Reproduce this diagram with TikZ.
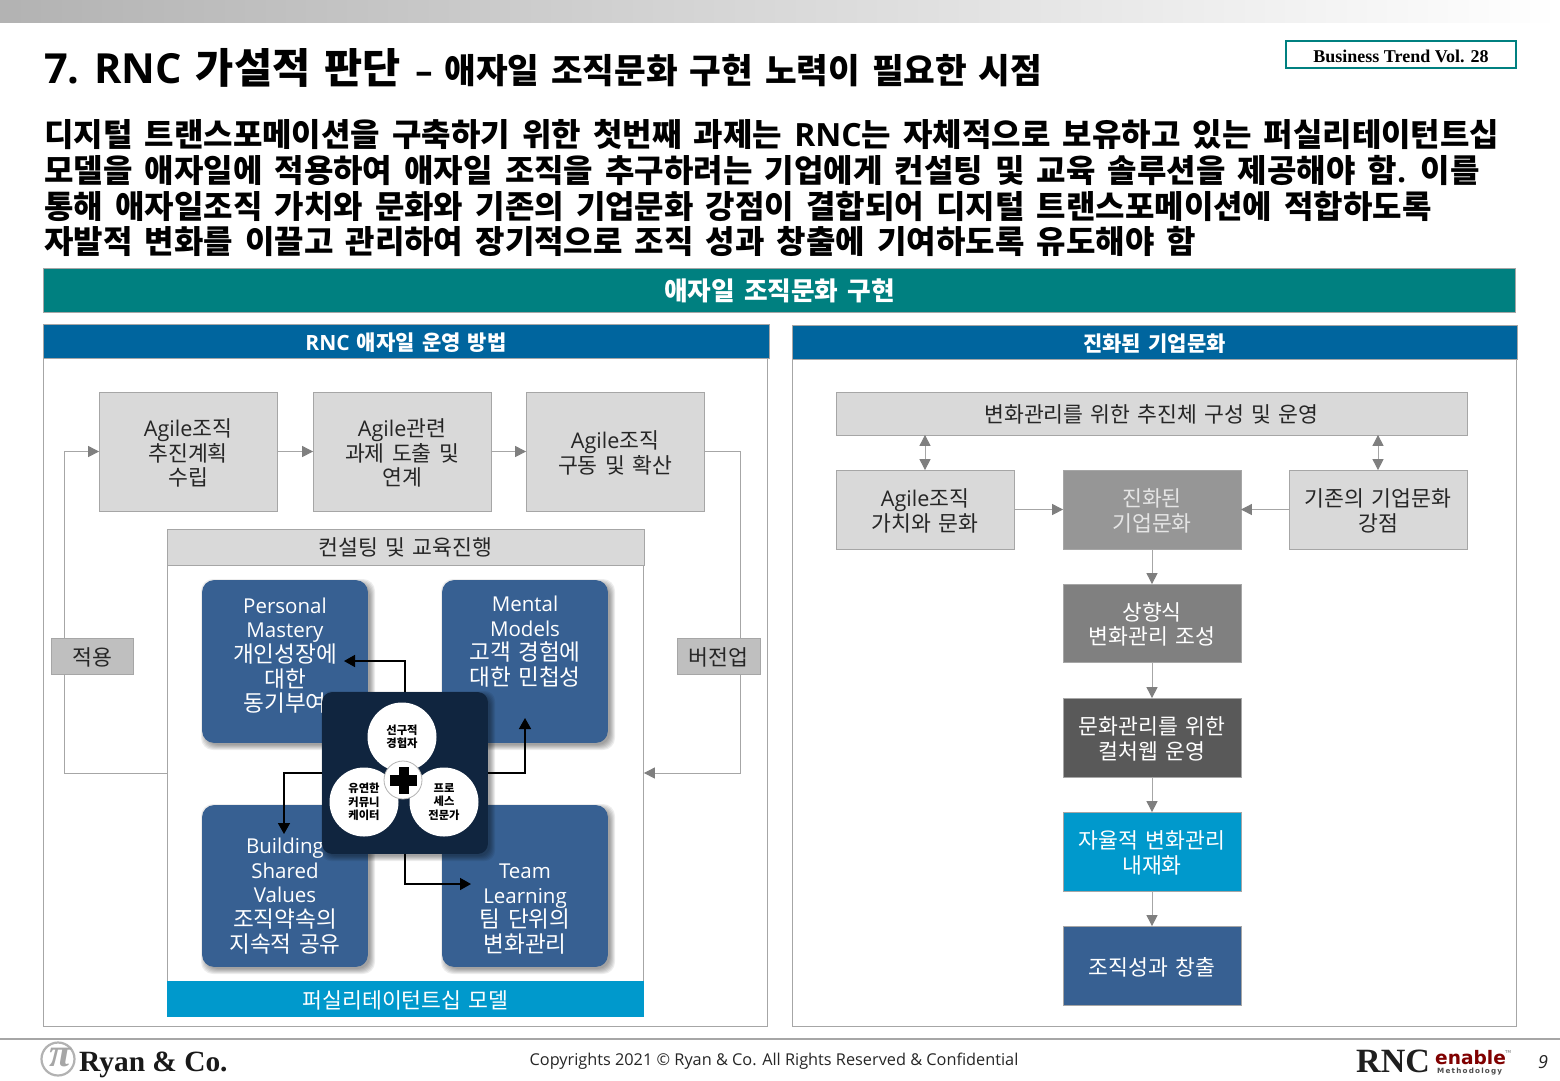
\documentclass[tikz,border=0pt]{standalone}
\usepackage{fontspec}
\setmainfont{Noto Sans CJK KR}[WordSpace=1.5]
\newfontfamily\bodyf{Noto Sans CJK KR}[WordSpace=1.66]
\newfontfamily\latf{Open Sans}
\newfontfamily\timesf{Liberation Serif}
\newfontfamily\wordf{DejaVu Sans}
\usetikzlibrary{arrows.meta,fadings}
\renewcommand\arraystretch{0.96}
\newcommand\fs[2]{\fontsize{#1}{#2}\selectfont}
\newcommand\en[1]{{\latf #1}}
\newcommand\pe[1]{{\latf\fontsize{20.5}{24.5}\selectfont #1}}
\newcommand\up[1]{\raisebox{1pt}[\height][\depth]{#1}}
\newcommand\rbox[7]{\node[#5,inner sep=0pt,outer sep=0pt,minimum width={(#3-#1-0.2)*1pt},minimum height={(#4-#2-0.2)*1pt}] (#6) at ({(#1+#3)/2},{(#2+#4)/2}) {\raisebox{-4pt}[\height][\depth]{\begin{tabular}{@{}c@{}}#7\end{tabular}}};}
\newcommand\softshadow[5]{\foreach \d in {-1,0,...,4}{\fill[black,opacity=.07,rounded corners=#5] ({#1+3-\d},{#2+3-\d}) rectangle ({#3+3+\d},{#4+3+\d});}}
\definecolor{tealc}{HTML}{008080}
\definecolor{headc}{HTML}{00659E}
\definecolor{lined}{HTML}{A6A6A6}
\definecolor{boxg}{HTML}{D9D9D9}
\definecolor{petal}{HTML}{376092}
\definecolor{navyc}{HTML}{10253F}
\definecolor{cyanc}{HTML}{0099CC}
\definecolor{txt}{HTML}{262626}
\definecolor{arrg}{HTML}{7F7F7F}
\tikzfading[name=hfade,left color=transparent!100,middle color=transparent!0,right color=transparent!100]
\tikzset{
  grey box/.style={draw=lined,line width=.8pt,fill=boxg,text=txt,font=\fs{21.6}{23.7}},
  panel/.style={draw=lined,line width=1pt,fill=white},
  head/.style={fill=headc,draw=lined,line width=.6pt,text=white,font=\fs{21}{24}\bfseries},
  dark box/.style={draw=lined,line width=.6pt,text=white,font=\fs{21.6}{23.7}},
  petal box/.style={fill=petal,rounded corners=12pt},
  petal text/.style={text=white,align=center,font=\fs{22.6}{24.6},inner sep=0pt},
  garrow/.style={draw=lined,line width=1pt,-{Triangle[length=11pt,width=11pt,fill=arrg,color=arrg]}},
  gdouble/.style={draw=lined,line width=1pt,{Triangle[length=11pt,width=11pt,fill=arrg,color=arrg]}-{Triangle[length=11pt,width=11pt,fill=arrg,color=arrg]}},
  barrow/.style={draw=black,line width=1.6pt,-{Triangle[length=11pt,width=12pt]}},
  bodyline/.style={anchor=base west,inner sep=0pt,font=\bodyf\fs{32}{36}\bfseries,text=black},
  circ/.style={circle,fill=white,inner sep=0pt,minimum size=69pt,align=center,font=\fs{11.3}{13.5}\bfseries,text=black},
}
\begin{document}
\begin{tikzpicture}[x=1pt,y=-1pt]
\useasboundingbox (0,0) rectangle (1560,1080);
\clip (0,0) rectangle (1560,1080);
\fill[white] (0,0) rectangle (1560,1080);
% top band and title rule
\shade[left color=black!30,right color=white] (0,0) rectangle (1560,22.6);
\fill[black!35,path fading=hfade] (15,99) rectangle (1545,100.5);
\shade[top color=black!16,bottom color=white,path fading=hfade] (15,100.5) rectangle (1545,108);
% title
\node[anchor=base west,inner sep=0pt,text=black,font=\fs{41.5}{44}\bfseries] (title) at (44,83.5) {\en{7. RNC} 가설적 판단 {\fs{34.45}{44}\en{–} 애자일 조직문화 구현 노력이 필요한 시점}};
\rbox{1286}{41}{1516}{68}{draw=tealc,line width=2pt,fill=white,font=\timesf\fs{18}{20}\bfseries,text=black}{issue}{Business Trend Vol. 28}
% body
\node[bodyline] (b1) at (44,146) {디지털 트랜스포메이션을 구축하기 위한 첫번째 과제는 \en{RNC}는 자체적으로 보유하고 있는 퍼실리테이턴트십};
\node[bodyline] (b2) at (44,182) {모델을 애자일에 적용하여 애자일 조직을 추구하려는 기업에게 컨설팅 및 교육 솔루션을 제공해야 함\en{.} 이를};
\node[bodyline] (b3) at (44,218) {통해 애자일조직 가치와 문화와 기존의 기업문화 강점이 결합되어 디지털 트랜스포메이션에 적합하도록};
\node[bodyline] (b4) at (44,253) {자발적 변화를 이끌고 관리하여 장기적으로 조직 성과 창출에 기여하도록 유도해야 함};
% banner
\rbox{43}{268}{1516}{313}{fill=tealc,draw=lined,line width=1pt,text=white,font=\fs{25.7}{28}\bfseries}{banner}{\up{애자일 조직문화 구현}}
% panels
\rbox{43}{358}{768}{1027}{panel}{lpanel}{}
\rbox{792}{359}{1517}{1027}{panel}{rpanel}{}
\rbox{43}{324}{769}{358}{head}{lhead}{\en{RNC} 애자일 운영 방법}
\rbox{792}{325}{1517}{359}{head}{rhead}{진화된 기업문화}
% left process
\rbox{99}{392}{277}{511}{grey box}{a1}{\en{Agile}조직\\추진계획\\수립}
\rbox{313}{392}{491}{511}{grey box}{a2}{\en{Agile}관련\\과제 도출 및\\연계}
\rbox{526}{392}{704}{511}{grey box}{a3}{\en{Agile}조직\\구동 및 확산}
\draw[garrow] (a1.east) -- (a2.west);
\draw[garrow] (a2.east) -- (a3.west);
% consulting panel
\rbox{167}{529}{644}{1017}{panel}{consult}{}
\rbox{167}{529}{644}{565}{grey box}{chead}{\up{컨설팅 및 교육진행}}
\rbox{167}{981}{644}{1017}{fill=cyanc,text=white,font=\fs{21.6}{24}}{cfoot}{퍼실리테이턴트십 모델}
\coordinate (lc) at (64,773);
\coordinate (rc) at (740,773);
\draw[garrow] (consult.west) -- (lc) |- (a1.west);
\draw[garrow] (a3.east) -| (rc) -- (consult.east);
\rbox{51}{638}{133}{674}{grey box,fill=black!25}{apply}{적용}
\rbox{677}{638}{760}{674}{grey box,fill=black!25}{verup}{버전업}
% petals
\softshadow{202}{580}{368}{743}{12pt}
\softshadow{442}{580}{608}{743}{12pt}
\softshadow{202}{805}{368}{967}{12pt}
\softshadow{442}{805}{608}{967}{12pt}
\rbox{202}{580}{368}{743}{petal box}{p1}{}
\rbox{442}{580}{608}{743}{petal box}{p2}{}
\rbox{202}{805}{368}{967}{petal box}{p3}{}
\rbox{442}{805}{608}{967}{petal box}{p4}{}
\node[petal text] (t1) at (285,655.5) {\pe{Personal}\\\pe{Mastery}\\개인성장에\\대한\\동기부여};
\node[petal text] (t2) at (525,641.5) {\pe{Mental}\\\pe{Models}\\고객 경험에\\대한 민첩성};
\node[petal text] (t3) at (285,896) {\pe{Building}\\\pe{Shared}\\\pe{Values}\\조직약속의\\지속적 공유};
\node[petal text] (t4) at (525,909) {\pe{Team}\\\pe{Learning}\\팀 단위의\\변화관리};
% centre
\softshadow{322}{692}{488}{854}{10pt}
\rbox{322}{692}{488}{854}{fill=navyc,rounded corners=10pt}{centre}{}
\node[circ] (c1) at (402,737) {선구적\\경험자};
\node[circ] (c2) at (364,802) {유연한\\커뮤니\\케이터};
\node[circ] (c3) at (444,802) {프로\\세스\\전문가};
\node[circle,fill=white,draw=black!30,line width=.8pt,minimum size=38pt,inner sep=0pt] (plus) at (403,780) {};
\fill[black] (398.5,767) rectangle (408.5,794);
\fill[black] (389.5,775) rectangle (417,786);
\coordinate (e1a) at (405,661);
\coordinate (e1) at (344,661);
\coordinate (e2a) at (525,773);
\coordinate (e2) at (525,718);
\coordinate (e3a) at (284,773);
\coordinate (e3) at (284,834);
\coordinate (e4a) at (405,884);
\coordinate (e4) at (471,884);
\draw[barrow] (centre.north) -- (e1a) -- (e1);
\draw[barrow] (centre.east) -- (e2a) -- (e2);
\draw[barrow] (centre.west) -- (e3a) -- (e3);
\draw[barrow] (centre.south) -- (e4a) -- (e4);
% right side
\rbox{836}{392}{1467}{435}{grey box}{r0}{\up{변화관리를 위한 추진체 구성 및 운영}}
\rbox{836}{470}{1014}{549}{grey box}{r1}{\en{Agile}조직\\가치와 문화}
\rbox{1063}{470}{1241}{549}{dark box,fill=black!41,text=white!90!black}{r2}{진화된\\기업문화}
\rbox{1289}{470}{1467}{549}{grey box}{r3}{기존의 기업문화\\강점}
\rbox{1063}{584}{1241}{662}{dark box,fill=black!50}{r4}{상향식\\변화관리 조성}
\rbox{1063}{698}{1241}{777}{dark box,fill=black!65}{r5}{문화관리를 위한\\컬처웹 운영}
\rbox{1063}{812}{1241}{891}{dark box,fill=cyanc}{r6}{자율적 변화관리\\내재화}
\rbox{1063}{926}{1241}{1005}{dark box,fill=petal}{r7}{조직성과 창출}
\draw[gdouble] (r0.south -| r1.south) -- (r1.north);
\draw[gdouble] (r0.south -| r3.north) -- (r3.north);
\draw[garrow] (r1.east) -- (r2.west);
\draw[garrow] (r3.west) -- (r2.east);
\draw[garrow] (r2.south) -- (r4.north);
\draw[garrow] (r4.south) -- (r5.north);
\draw[garrow] (r5.south) -- (r6.north);
\draw[garrow] (r6.south) -- (r7.north);
% footer
\draw[draw=black!35,line width=1.4pt] (0,1039) -- (1560,1039);
\node[inner sep=0pt,font=\latf\fs{16.3}{20},text=txt] (copy) at (774,1061) {Copyrights 2021 © Ryan \& Co. All Rights Reserved \& Confidential};
\node[circle,draw=black!30,line width=2.2pt,minimum size=33pt,inner sep=0pt] (logoc) at (58,1059) {};
\node[inner sep=0pt,font=\timesf\bfseries\itshape\fs{40}{40},text=black!35] (logop) at (60,1057) {π};
\node[anchor=base west,inner sep=0pt,font=\timesf\bfseries\fs{29.4}{30},text=black!90] (ryan) at (79,1071) {Ryan \& Co.};
\node[anchor=base west,inner sep=0pt,font=\timesf\bfseries\fs{34}{36},text=black!88] (rnc) at (1356,1072) {RNC};
\node[anchor=base west,inner sep=0pt,font=\wordf\bfseries\fs{18.6}{20},text=red!50!black] (enable) at (1435,1064) {enable};
\node[anchor=base west,inner sep=0pt,font=\wordf\fs{4}{5},text=black!60] (tm) at (1505,1053) {TM};
\node[anchor=base west,inner sep=0pt,font=\wordf\bfseries\fs{7.2}{8},text=black!70] (meth) at (1437,1073) {M\,e\,t\,h\,o\,d\,o\,l\,o\,g\,y};
\node[inner sep=0pt,font=\latf\itshape\fs{18}{20},text=txt] (pageno) at (1543,1062) {9};
\end{tikzpicture}
\end{document}
